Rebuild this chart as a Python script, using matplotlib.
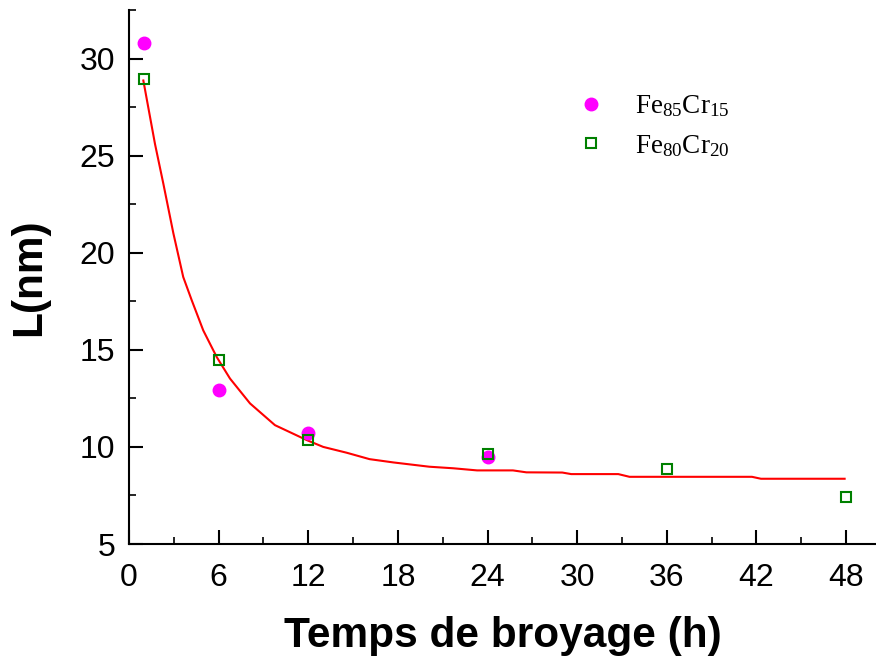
import numpy as np
import matplotlib
matplotlib.use('Agg')
import matplotlib.pyplot as plt
from matplotlib.ticker import MultipleLocator

plt.rcParams['font.family'] = ['Liberation Sans', 'DejaVu Sans']
plt.rcParams['mathtext.fontset'] = 'custom'
plt.rcParams['mathtext.rm'] = 'Liberation Serif'
plt.rcParams['mathtext.it'] = 'Liberation Serif:italic'
plt.rcParams['mathtext.bf'] = 'Liberation Serif:bold'

# Fe85Cr15 (filled circles)
t_8515 = [1, 6, 12, 24]
L_8515 = [30.82, 12.92, 10.7, 9.47]

# Fe80Cr20 (open squares)
t_8020 = [1, 6, 12, 24, 36, 48]
L_8020 = [28.97, 14.46, 10.35, 9.63, 8.87, 7.43]

# fitted curve
t_fit = [0.96, 1.74, 2.3, 2.97, 3.63, 4.2, 4.97, 5.87, 6.76, 8.1, 9.77, 11.9,
         13.0, 14.57, 16.1, 17.7, 20.1, 21.7, 23.3, 25.7, 26.6, 29.0, 29.6,
         32.75, 33.5, 41.7, 42.3, 47.9]
L_fit = [28.87, 25.6, 23.55, 21.0, 18.75, 17.55, 16.0, 14.63, 13.52, 12.24,
         11.12, 10.35, 10.0, 9.7, 9.37, 9.2, 8.98, 8.9, 8.79, 8.79, 8.69, 8.68,
         8.6, 8.6, 8.46, 8.46, 8.36, 8.36]

fig = plt.figure(figsize=(8.76, 6.62), dpi=100)
ax = fig.add_axes([129/876, 1-544/662, 1-129/876, (544-10)/662])

ax.plot(t_fit, L_fit, color='red', lw=1.5, zorder=2)
ax.plot(t_8515, L_8515, 'o', color='#ff00ff', ms=9, mec='#ff00ff', ls='none',
        label=r'$\mathrm{Fe}_{85}\mathrm{Cr}_{15}$', zorder=3)
ax.plot(t_8020, L_8020, 's', mfc='none', mec='green', mew=1.5, ms=7, ls='none',
        label=r'$\mathrm{Fe}_{80}\mathrm{Cr}_{20}$', zorder=3)

ax.set_xlim(0, 50)
ax.set_ylim(5, 32.5)
ax.xaxis.set_major_locator(MultipleLocator(6))
ax.xaxis.set_minor_locator(MultipleLocator(3))
ax.yaxis.set_major_locator(MultipleLocator(5))
ax.yaxis.set_minor_locator(MultipleLocator(2.5))
ax.tick_params(which='major', direction='in', length=10, width=1.5, labelsize=23)
ax.tick_params(axis='x', which='major', pad=14)
ax.tick_params(axis='y', which='major', pad=10)
ax.tick_params(which='minor', direction='in', length=5, width=1.2)
ax.spines['top'].set_visible(False)
ax.spines['right'].set_visible(False)
ax.spines['left'].set_linewidth(1.5)
ax.spines['bottom'].set_linewidth(1.5)

ax.set_xlabel('Temps de broyage (h)', fontsize=30.5, fontweight='bold', labelpad=16)
ax.set_ylabel('L(nm)', fontsize=30.5, fontweight='bold', labelpad=22)

leg = ax.legend(loc='upper left', bbox_to_anchor=(0.55, 0.89), frameon=False,
                prop={'size': 19.5}, handletextpad=0.6, labelspacing=0.5)

fig.savefig('out.png', dpi=100)
